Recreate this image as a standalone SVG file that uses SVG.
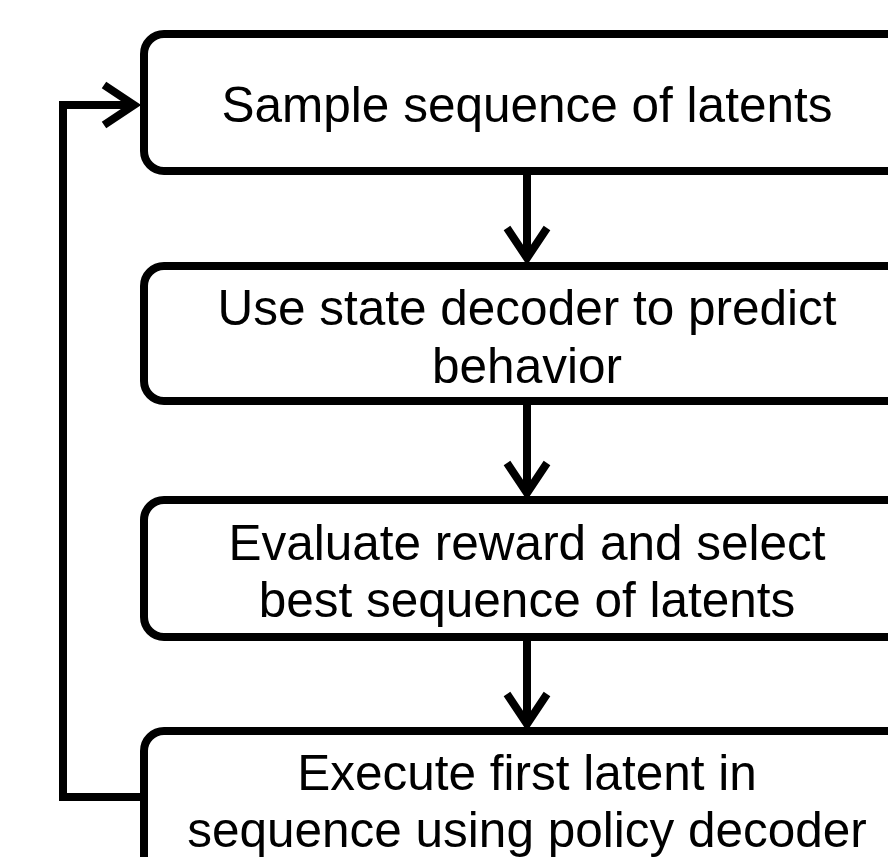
<svg xmlns="http://www.w3.org/2000/svg" width="888" height="857" viewBox="0 0 888 857">
<style>
.box{fill:#fff;stroke:#000;stroke-width:8}
.lbl{font-family:"Liberation Sans",Arial,sans-serif;font-size:49.5px;fill:#000;text-anchor:middle}
.conn{fill:none;stroke:#000;stroke-width:8}
.head{fill:none;stroke:#000;stroke-width:8;stroke-linejoin:miter}
</style>
<rect width="888" height="857" fill="#fff"/>
<g id="connectors">
<path class="conn" d="M527 172 V258"/>
<path class="head" d="M507 228 L527 258 L547 228"/>
<path class="conn" d="M527 402 V493"/>
<path class="head" d="M507 463 L527 493 L547 463"/>
<path class="conn" d="M527 637 V724"/>
<path class="head" d="M507 694 L527 724 L547 694"/>
<path class="conn" d="M144 797 H63 V105 H134"/>
<path class="head" d="M104 85 L134 105 L104 125"/>
</g>
<g id="node1">
<rect class="box" x="144" y="34" width="860" height="137" rx="20"/>
<text class="lbl" x="527" y="122">Sample sequence of latents</text>
</g>
<g id="node2">
<rect class="box" x="144" y="266" width="860" height="135" rx="20"/>
<text class="lbl" x="527" y="325">Use state decoder to predict</text>
<text class="lbl" x="527" y="383">behavior</text>
</g>
<g id="node3">
<rect class="box" x="144" y="500" width="860" height="137" rx="20"/>
<text class="lbl" x="527" y="560">Evaluate reward and select</text>
<text class="lbl" x="527" y="617">best sequence of latents</text>
</g>
<g id="node4">
<rect class="box" x="144" y="731" width="860" height="200" rx="20"/>
<text class="lbl" x="527" y="790">Execute first latent in</text>
<text class="lbl" x="527" y="847">sequence using policy decoder</text>
</g>
</svg>
